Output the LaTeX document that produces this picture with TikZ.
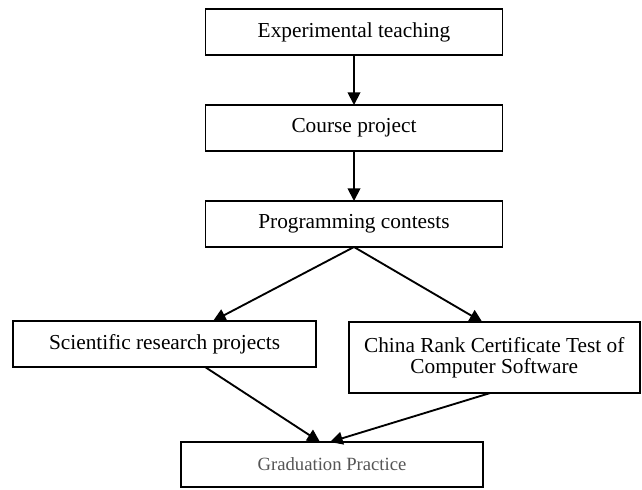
\documentclass[tikz,border=0pt]{standalone}
\usepackage{fontspec}
\setmainfont{Liberation Serif}
\usepackage{tikz}
\usetikzlibrary{arrows.meta,positioning}
\definecolor{gradtext}{HTML}{555555}
\tikzset{
  box/.style={draw=black,line width=1.4pt,align=center,inner sep=0pt,outer sep=0pt,minimum height=34.5pt,font=\fontsize{16}{15.5}\selectfont},
  ar/.style={-{Triangle[length=9.5pt,width=9.5pt]},line width=1.4pt}
}
\begin{document}
\begin{tikzpicture}[bx/.style={box,minimum width=222.75pt}]
\useasboundingbox (0,0) rectangle (481.5pt,-366.75pt);
\node[bx] (exp) at (265.5pt,-24pt) {Experimental teaching};
\node[bx,below=37.5pt of exp] (course) {Course project};
\node[bx,below=37.5pt of course] (prog) {Programming contests};
\node[box,minimum width=227.25pt,below=55.5pt of prog,xshift=-142.1pt] (sci) {Scientific research projects};
\node[box,minimum width=218pt,minimum height=53.25pt,below=56.25pt of prog,xshift=105.2pt] (china) {China Rank Certificate Test of\\Computer Software};
\node[box,minimum width=226.5pt,minimum height=33.75pt,below=146.25pt of prog,xshift=-16.5pt,text=gradtext,font=\fontsize{14}{16}\selectfont] (grad) {Graduation Practice};
\foreach \p/\q in {exp/course,course/prog}{\draw[ar] (\p)--(\q);}
\draw[ar] (prog.south) -- ([xshift=36.4pt]sci.north);
\draw[ar] (prog.south) -- ([xshift=-9pt]china.north);
\draw[ar] ([xshift=30.4pt]sci.south) -- ([xshift=-9pt]grad.north);
\draw[ar] ([xshift=-3pt]china.south) -- ([xshift=-1.5pt]grad.north);
\end{tikzpicture}
\end{document}
